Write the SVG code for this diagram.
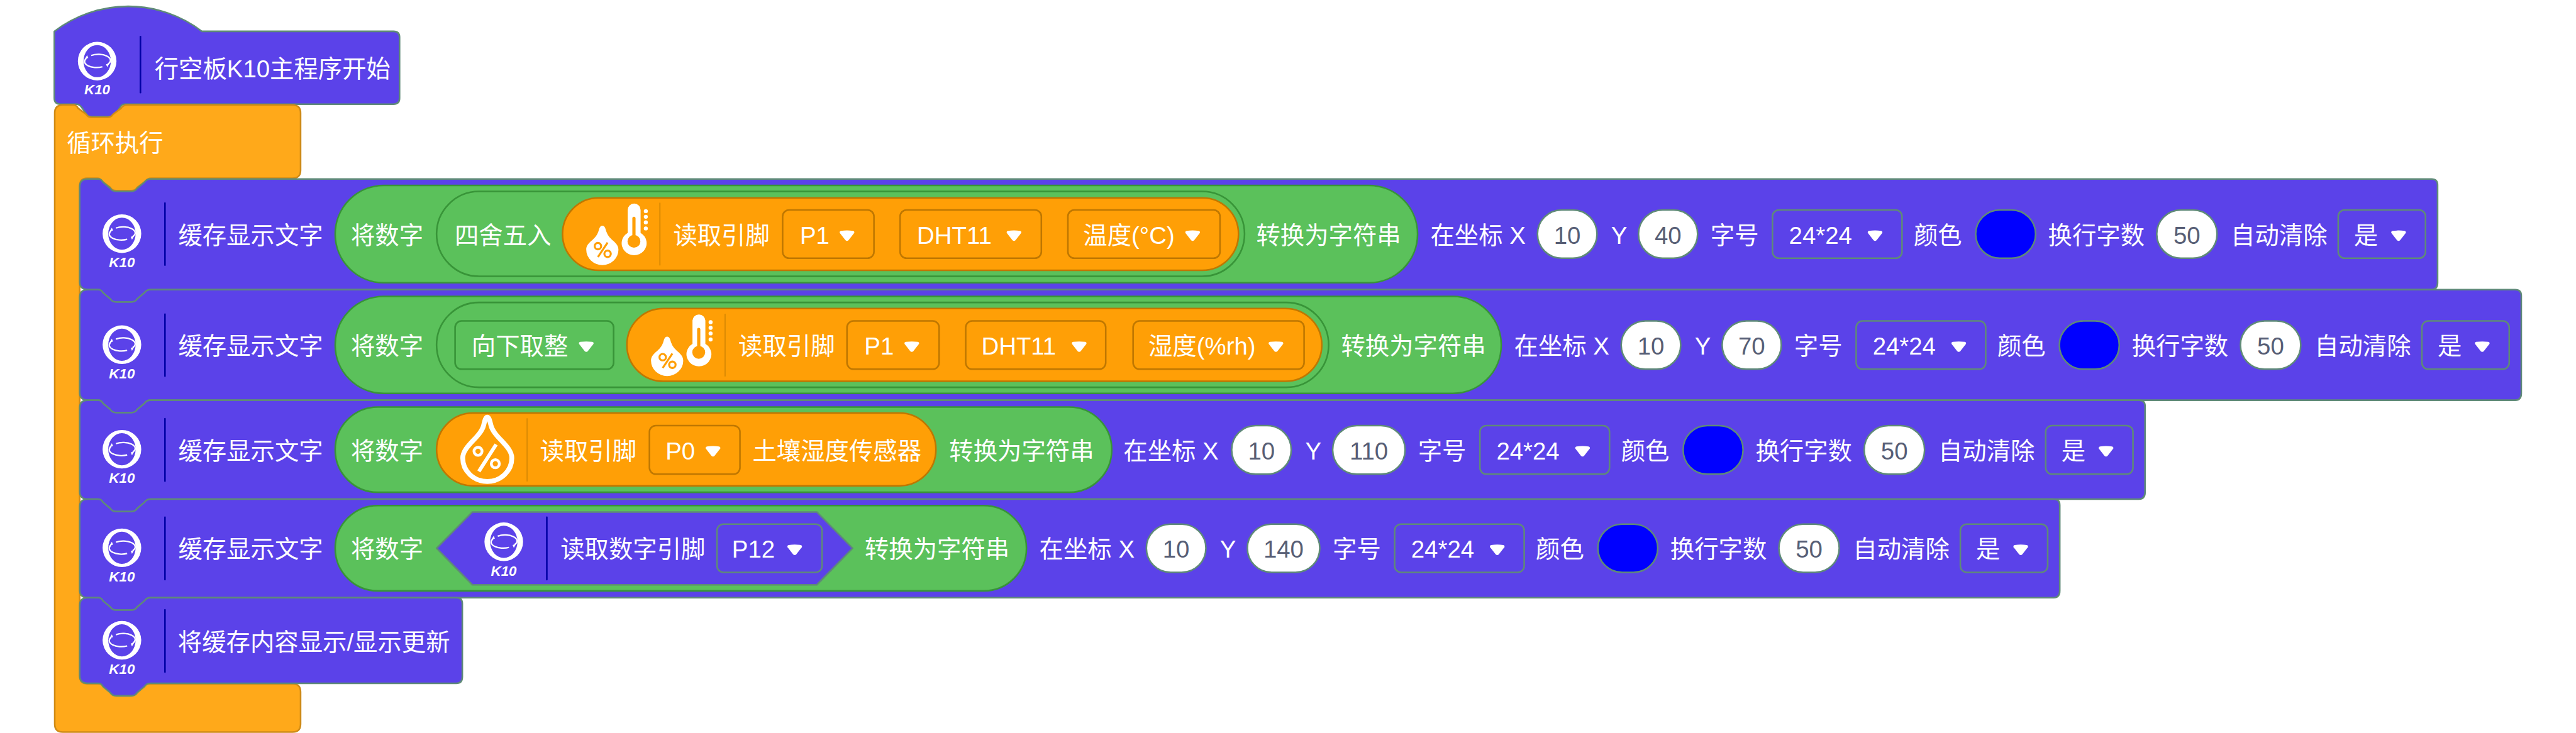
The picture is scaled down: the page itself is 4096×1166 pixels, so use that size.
<svg xmlns="http://www.w3.org/2000/svg" width="4096" height="1166" viewBox="0 0 4096 1166">
<style>
text{font-family:"Liberation Sans","Noto Sans CJK SC",sans-serif;font-size:60px;fill:#fff}
.val{fill:#575e75;text-anchor:middle}
.k{font-size:35px;font-weight:bold;font-style:italic;text-anchor:middle}
.blk{fill:#5b42e9;stroke:#5f8a78;stroke-width:4;stroke-linejoin:round}
.loop{fill:#ffa91a;stroke:#cf8b17;stroke-width:4;stroke-linejoin:round}
.grn{fill:#5bc15b;stroke:#389438;stroke-width:4}
.org{fill:#ff9f06;stroke:#bf7701;stroke-width:4}
.ddp{fill:none;stroke:#5f8a78;stroke-width:4}
.ddg{fill:none;stroke:#389438;stroke-width:4}
.ddo{fill:none;stroke:#bf7701;stroke-width:4}
.fld{fill:#fff;stroke:#5f8a78;stroke-width:4}
.clr{fill:#00f;stroke:#5f8a78;stroke-width:4}
.sep{stroke:#0000a5;stroke-width:4;stroke-linecap:round}
.sepo{stroke:#d98a04;stroke-width:3}
</style>
<defs>
<path id="arrow" fill="#fff" d="M-15,-8 Q0,-10 15,-8 Q19,-7 18,-3 L4,15 Q0,19 -4,15 L-18,-3 Q-19,-7 -15,-8Z"/>
<g id="ring">
<path fill="#fff" fill-rule="evenodd" d="M-48,0 A48,48 0 1 1 48,0 A48,48 0 1 1 -48,0Z M-34,0 A34,40 0 1 0 34,0 A34,40 0 1 0 -34,0Z"/>
<path fill="none" stroke="#fff" stroke-width="3.500" d="M-27,-7 A30,15 0 0 0 13,14 M-15,-14 A30,15 0 0 1 27,7"/>
<path fill="#fff" d="M22,8 L31,5 L25,15Z M-22,-8 L-31,-5 L-25,-15Z"/>
</g>
<g id="thermo">
<path fill="#fff" d="M0,0 C6,0 8,8 10,15 C18,38 40,40 40,60 A40,38 0 0 1 -40,60 C-40,40 -18,38 -10,15 C-8,8 -6,0 0,0Z"/>
<circle cx="-11" cy="51" r="8" fill="none" stroke="#ff9f06" stroke-width="5"/>
<circle cx="13" cy="70" r="8" fill="none" stroke="#ff9f06" stroke-width="5"/>
<path stroke="#ff9f06" stroke-width="5" d="M13,42 L-11,78"/>
<path fill="#fff" d="M63,-39 A16,16 0 0 1 95,-39 V18 A31,30 0 1 1 63,18Z"/>
<circle cx="78.5" cy="39" r="16" fill="#ff9f06"/>
<rect x="74.500" y="-22" width="8" height="50" rx="4" fill="#ff9f06"/>
<circle cx="108" cy="-36" r="5" fill="#fff"/><circle cx="108" cy="-22" r="5" fill="#fff"/><circle cx="108" cy="-8" r="5" fill="#fff"/><circle cx="108" cy="7" r="5" fill="#fff"/>
</g>
</defs>
<g transform="scale(0.6398)">
<g id="hat">
<path class="blk" d="M135,78 A302,302 0 0 1 502,78 H978 Q993,78 993,93 V244 Q993,259 978,259 H310 Q302,259 298,267 L287,284 Q283,290 276,290 H226 Q219,290 215,284 L203,267 Q198,259 190,259 H150 Q135,259 135,244Z"/>
<use href="#ring" x="241.500" y="152"/>
<text class="k" x="241.500" y="235">K10</text>
<line class="sep" x1="349" y1="91" x2="349" y2="230"/>
<text x="384" y="192">行空板K10主程序开始</text>
</g>
<g id="loop">
<path class="loop" d="M136,281 Q136,261 156,261 H182 Q190,261 194,269 L214,284 Q219,292 229,292 H266 Q276,292 281,284 L301,269 Q306,261 316,261 H727 Q747,261 747,281 V423 Q747,443 727,443 H376 Q366,443 361,451 L341,466 Q336,474 326,474 H289 Q279,474 274,466 L254,451 Q250,443 242,443 H216 Q198,443 198,463 V1680 Q198,1700 216,1700 H727 Q747,1700 747,1720 V1800 Q747,1820 727,1820 H156 Q136,1820 136,1800Z"/>
<text x="166" y="376">循环执行</text>
</g>
<g id="row1">
<path class="blk" d="M198,465 Q198,445 218,445 H244 Q252,445 256,453 L274,468 Q279,476 289,476 H326 Q336,476 341,468 L359,453 Q364,445 374,445 H6043 Q6058,445 6058,460 V703 Q6058,720 6043,720 H374 Q364,720 359,728 L341,743 Q336,751 326,751 H289 Q279,751 274,743 L256,728 Q252,720 244,720 H218 Q198,720 198,700Z"/>
<use href="#ring" x="303" y="581"/><text class="k" x="303" y="665">K10</text>
<line class="sep" x1="410" y1="505" x2="410" y2="659"/>
<text x="443" y="606">缓存显示文字</text>
<rect class="grn" x="833" y="461" width="2690" height="242" rx="121"/>
<text x="872" y="606">将数字</text>
<rect class="grn" x="1085" y="476" width="2008" height="211" rx="105.500"/>
<text x="1130" y="606">四舍五入</text>
<rect class="org" x="1398" y="492" width="1680" height="180" rx="90"/>
<use href="#thermo" x="1497" y="561"/>
<line class="sepo" x1="1640" y1="504" x2="1640" y2="660"/>
<text x="1673" y="606">读取引脚</text>
<rect class="ddo" x="1945" y="522" width="227" height="120" rx="16"/><text x="1988" y="606">P1</text><use href="#arrow" x="2105" y="582"/>
<rect class="ddo" x="2237" y="522" width="351" height="120" rx="16"/><text x="2279" y="606">DHT11</text><use href="#arrow" x="2520" y="582"/>
<rect class="ddo" x="2654" y="522" width="378" height="120" rx="16"/><text x="2692" y="606">温度(°C)</text><use href="#arrow" x="2964" y="582"/>
<text x="3122" y="606">转换为字符串</text>
<text x="3555" y="606">在坐标 X</text>
<rect class="fld" x="3821" y="522" width="148" height="120" rx="60"/><text class="val" x="3895" y="606">10</text>
<text x="4004" y="606">Y</text>
<rect class="fld" x="4072" y="522" width="147" height="120" rx="60"/><text class="val" x="4145.500" y="606">40</text>
<text x="4251" y="606">字号</text>
<rect class="ddp" x="4405" y="522" width="322" height="120" rx="16"/><text x="4446" y="606">24*24</text><use href="#arrow" x="4660" y="582"/>
<text x="4756" y="606">颜色</text>
<rect class="clr" x="4910" y="522" width="149" height="120" rx="60"/>
<text x="5090" y="606">换行字数</text>
<rect class="fld" x="5360" y="522" width="150" height="120" rx="60"/><text class="val" x="5435" y="606">50</text>
<text x="5544" y="606">自动清除</text>
<rect class="ddp" x="5811" y="522" width="217" height="120" rx="16"/><text x="5850" y="606">是</text><use href="#arrow" x="5961" y="582"/>
</g>
<g id="row2">
<path class="blk" d="M198,740 Q198,720 218,720 H244 Q252,720 256,728 L274,743 Q279,751 289,751 H326 Q336,751 341,743 L359,728 Q364,720 374,720 H6251 Q6266,720 6266,735 V978 Q6266,995 6251,995 H374 Q364,995 359,1003 L341,1018 Q336,1026 326,1026 H289 Q279,1026 274,1018 L256,1003 Q252,995 244,995 H218 Q198,995 198,975Z"/>
<use href="#ring" x="303" y="857"/><text class="k" x="303" y="941">K10</text>
<line class="sep" x1="410" y1="781" x2="410" y2="935"/>
<text x="443" y="882">缓存显示文字</text>
<rect class="grn" x="833" y="737" width="2898" height="241" rx="120.500"/>
<text x="872" y="882">将数字</text>
<rect class="grn" x="1085" y="752" width="2217" height="211" rx="105.500"/>
<rect class="ddg" x="1131" y="798" width="394" height="120" rx="16"/><text x="1172" y="882">向下取整</text><use href="#arrow" x="1457" y="858"/>
<rect class="org" x="1558" y="767" width="1727" height="181" rx="90.500"/>
<use href="#thermo" x="1658" y="837"/>
<line class="sepo" x1="1802" y1="780" x2="1802" y2="936"/>
<text x="1835" y="882">读取引脚</text>
<rect class="ddo" x="2105" y="798" width="229" height="120" rx="16"/><text x="2148" y="882">P1</text><use href="#arrow" x="2266" y="858"/>
<rect class="ddo" x="2400" y="798" width="348" height="120" rx="16"/><text x="2439" y="882">DHT11</text><use href="#arrow" x="2682" y="858"/>
<rect class="ddo" x="2816" y="798" width="425" height="120" rx="16"/><text x="2854" y="882">湿度(%rh)</text><use href="#arrow" x="3171" y="858"/>
<text x="3333" y="882">转换为字符串</text>
<text x="3763" y="882">在坐标 X</text>
<rect class="fld" x="4029" y="798" width="148" height="120" rx="60"/><text class="val" x="4103" y="882">10</text>
<text x="4212" y="882">Y</text>
<rect class="fld" x="4280" y="798" width="147" height="120" rx="60"/><text class="val" x="4353.500" y="882">70</text>
<text x="4459" y="882">字号</text>
<rect class="ddp" x="4613" y="798" width="322" height="120" rx="16"/><text x="4654" y="882">24*24</text><use href="#arrow" x="4868" y="858"/>
<text x="4964" y="882">颜色</text>
<rect class="clr" x="5118" y="798" width="149" height="120" rx="60"/>
<text x="5298" y="882">换行字数</text>
<rect class="fld" x="5568" y="798" width="150" height="120" rx="60"/><text class="val" x="5643" y="882">50</text>
<text x="5752" y="882">自动清除</text>
<rect class="ddp" x="6019" y="798" width="217" height="120" rx="16"/><text x="6058" y="882">是</text><use href="#arrow" x="6169" y="858"/>
</g>
<g id="row3">
<path class="blk" d="M198,1015 Q198,995 218,995 H244 Q252,995 256,1003 L274,1018 Q279,1026 289,1026 H326 Q336,1026 341,1018 L359,1003 Q364,995 374,995 H5316 Q5331,995 5331,1010 V1224 Q5331,1241 5316,1241 H374 Q364,1241 359,1249 L341,1264 Q336,1272 326,1272 H289 Q279,1272 274,1264 L256,1249 Q252,1241 244,1241 H218 Q198,1241 198,1221Z"/>
<use href="#ring" x="303" y="1117"/><text class="k" x="303" y="1201">K10</text>
<line class="sep" x1="410" y1="1041" x2="410" y2="1196"/>
<text x="443" y="1142">缓存显示文字</text>
<rect class="grn" x="833" y="1012" width="1930" height="212" rx="106"/>
<text x="872" y="1142">将数字</text>
<rect class="org" x="1085" y="1027" width="1241" height="181" rx="90.500"/>
<g transform="translate(1211,1033)">
<path fill="none" stroke="#fff" stroke-width="12" stroke-linejoin="round" d="M0,4 C4,4 6,12 9,24 C16,54 61,76 61,106 A61,58 0 0 1 -61,106 C-61,76 -16,54 -9,24 C-6,12 -4,4 0,4Z"/>
<circle cx="-23" cy="89" r="10" fill="none" stroke="#fff" stroke-width="7"/>
<circle cx="20" cy="120" r="10" fill="none" stroke="#fff" stroke-width="7"/>
<path stroke="#fff" stroke-width="9" d="M22,72 L-21,139"/>
</g>
<line class="sepo" x1="1310" y1="1040" x2="1310" y2="1197"/>
<text x="1342" y="1142">读取引脚</text>
<rect class="ddo" x="1614" y="1058" width="225" height="121" rx="16"/><text x="1654" y="1142">P0</text><use href="#arrow" x="1772" y="1118"/>
<text x="1870" y="1142">土壤湿度传感器</text>
<text x="2359" y="1142">转换为字符串</text>
<text x="2792" y="1142">在坐标 X</text>
<rect class="fld" x="3061" y="1058" width="148" height="121" rx="60"/><text class="val" x="3135" y="1142">10</text>
<text x="3244" y="1142">Y</text>
<rect class="fld" x="3312" y="1058" width="180" height="121" rx="60"/><text class="val" x="3402" y="1142">110</text>
<text x="3524" y="1142">字号</text>
<rect class="ddp" x="3678" y="1058" width="322" height="121" rx="16"/><text x="3719" y="1142">24*24</text><use href="#arrow" x="3933" y="1118"/>
<text x="4029" y="1142">颜色</text>
<rect class="clr" x="4183" y="1058" width="149" height="121" rx="60"/>
<text x="4363" y="1142">换行字数</text>
<rect class="fld" x="4633" y="1058" width="150" height="121" rx="60"/><text class="val" x="4708" y="1142">50</text>
<text x="4817" y="1142">自动清除</text>
<rect class="ddp" x="5084" y="1058" width="217" height="121" rx="16"/><text x="5123" y="1142">是</text><use href="#arrow" x="5234" y="1118"/>
</g>
<g id="row4">
<path class="blk" d="M198,1261 Q198,1241 218,1241 H244 Q252,1241 256,1249 L274,1264 Q279,1272 289,1272 H326 Q336,1272 341,1264 L359,1249 Q364,1241 374,1241 H5104 Q5119,1241 5119,1256 V1469 Q5119,1486 5104,1486 H374 Q364,1486 359,1494 L341,1509 Q336,1517 326,1517 H289 Q279,1517 274,1509 L256,1494 Q252,1486 244,1486 H218 Q198,1486 198,1466Z"/>
<use href="#ring" x="303" y="1362"/><text class="k" x="303" y="1446">K10</text>
<line class="sep" x1="410" y1="1286" x2="410" y2="1441"/>
<text x="443" y="1387">缓存显示文字</text>
<rect class="grn" x="833" y="1257" width="1718" height="212" rx="106"/>
<text x="872" y="1387">将数字</text>
<path class="blk" d="M1085,1363 L1174,1273 H2030 L2119,1363 L2030,1454 H1174Z"/>
<use href="#ring" x="1252" y="1347"/><text class="k" x="1252" y="1431">K10</text>
<line class="sep" x1="1359" y1="1286" x2="1359" y2="1441"/>
<text x="1393" y="1387">读取数字引脚</text>
<rect class="ddp" x="1782" y="1303" width="261" height="120" rx="16"/><text x="1819" y="1387">P12</text><use href="#arrow" x="1975" y="1363"/>
<text x="2149" y="1387">转换为字符串</text>
<text x="2583" y="1387">在坐标 X</text>
<rect class="fld" x="2849" y="1303" width="148" height="120" rx="60"/><text class="val" x="2923" y="1387">10</text>
<text x="3032" y="1387">Y</text>
<rect class="fld" x="3100" y="1303" width="180" height="120" rx="60"/><text class="val" x="3190" y="1387">140</text>
<text x="3312" y="1387">字号</text>
<rect class="ddp" x="3466" y="1303" width="322" height="120" rx="16"/><text x="3507" y="1387">24*24</text><use href="#arrow" x="3721" y="1363"/>
<text x="3817" y="1387">颜色</text>
<rect class="clr" x="3971" y="1303" width="149" height="120" rx="60"/>
<text x="4151" y="1387">换行字数</text>
<rect class="fld" x="4421" y="1303" width="150" height="120" rx="60"/><text class="val" x="4496" y="1387">50</text>
<text x="4605" y="1387">自动清除</text>
<rect class="ddp" x="4872" y="1303" width="217" height="120" rx="16"/><text x="4911" y="1387">是</text><use href="#arrow" x="5022" y="1363"/>
</g>
<g id="row5">
<path class="blk" d="M198,1506 Q198,1486 218,1486 H244 Q252,1486 256,1494 L274,1509 Q279,1517 289,1517 H326 Q336,1517 341,1509 L359,1494 Q364,1486 374,1486 H1134 Q1149,1486 1149,1501 V1683 Q1149,1699 1134,1699 H374 Q364,1699 359,1707 L341,1722 Q336,1730 326,1730 H289 Q279,1730 274,1722 L256,1707 Q252,1699 244,1699 H218 Q198,1699 198,1679Z"/>
<use href="#ring" x="303" y="1592"/><text class="k" x="303" y="1675">K10</text>
<line class="sep" x1="410" y1="1516" x2="410" y2="1671"/>
<text x="442" y="1618">将缓存内容显示/显示更新</text>
</g>
</g>
</svg>
